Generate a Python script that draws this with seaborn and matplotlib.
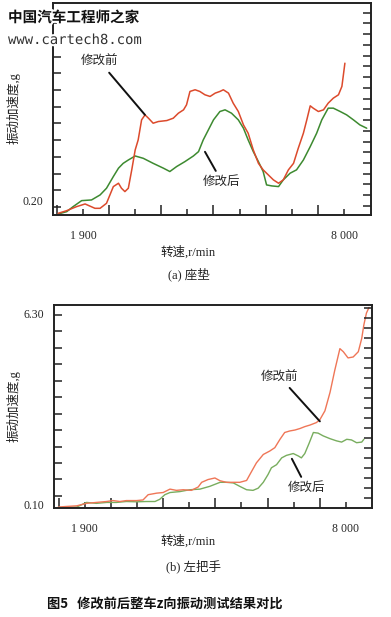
import numpy as np
import pandas as pd
import matplotlib
matplotlib.use("Agg")
import matplotlib.pyplot as plt
import matplotlib.patheffects as pe
import seaborn as sns

### (a) seat cushion
seat_rpm_before = [1320, 1520, 1750, 1950, 2180, 2300, 2450, 2610, 2730, 2800, 2880, 2960, 3040, 3120, 3190,
                   3270, 3350, 3430, 3540, 3660, 3860, 4010, 4130, 4250, 4320, 4400, 4520, 4630, 4750, 4870,
                   4990, 5100, 5180, 5300, 5410, 5530, 5650, 5760, 5880, 6000, 6110, 6230, 6350, 6470, 6580,
                   6700, 6820, 6930, 7050, 7130, 7210, 7280, 7400, 7520, 7630, 7750, 7870, 7950, 7980, 8020]
seat_g_before = [0.162, 0.178, 0.202, 0.218, 0.192, 0.192, 0.222, 0.322, 0.342, 0.312, 0.292, 0.312, 0.422, 0.541, 0.601,
                 0.721, 0.751, 0.731, 0.701, 0.711, 0.717, 0.731, 0.761, 0.781, 0.811, 0.891, 0.901, 0.891, 0.871, 0.861,
                 0.881, 0.891, 0.901, 0.881, 0.821, 0.771, 0.691, 0.641, 0.541, 0.461, 0.422, 0.392, 0.362, 0.342, 0.362,
                 0.422, 0.461, 0.551, 0.641, 0.721, 0.805, 0.791, 0.771, 0.781, 0.821, 0.851, 0.871, 0.921, 0.980, 1.060]
seat_rpm_after = [1320, 1520, 1670, 1870, 2100, 2300, 2450, 2610, 2730, 2840, 2960, 3120, 3310, 3540, 3780,
                  3930, 4090, 4280, 4480, 4600, 4710, 4830, 4950, 5100, 5220, 5370, 5530, 5650, 5760, 5880,
                  6000, 6110, 6190, 6310, 6470, 6580, 6740, 6890, 7050, 7210, 7360, 7480, 7630, 7750, 7910,
                  8060, 8220, 8370, 8530]
seat_g_after = [0.158, 0.172, 0.202, 0.238, 0.242, 0.272, 0.312, 0.382, 0.432, 0.461, 0.481, 0.505, 0.491, 0.461, 0.432,
                0.412, 0.442, 0.471, 0.505, 0.531, 0.601, 0.661, 0.721, 0.771, 0.781, 0.761, 0.721, 0.671, 0.601, 0.531,
                0.471, 0.412, 0.332, 0.326, 0.322, 0.362, 0.402, 0.422, 0.481, 0.561, 0.641, 0.721, 0.791, 0.791, 0.771,
                0.751, 0.721, 0.691, 0.671]

### (b) left handlebar
bar_rpm_before = [1280, 1470, 1710, 1940, 2170, 2410, 2560, 2720, 2870, 3110, 3260, 3380, 3580, 3730, 3890,
                  4040, 4200, 4390, 4550, 4630, 4780, 4940, 5060, 5210, 5370, 5520, 5680, 5800, 5910, 6070,
                  6220, 6340, 6460, 6570, 6690, 6810, 6930, 7040, 7160, 7310, 7390, 7510, 7630, 7740, 7860,
                  7940, 8050, 8170, 8290, 8370, 8420, 8480, 8540]
bar_g_before = [0.03, 0.05, 0.07, 0.15, 0.18, 0.21, 0.24, 0.21, 0.24, 0.24, 0.26, 0.43, 0.48, 0.50, 0.61,
                0.57, 0.59, 0.57, 0.68, 0.83, 0.92, 0.97, 0.88, 0.83, 0.83, 0.83, 0.89, 1.19, 1.46, 1.73,
                1.84, 1.95, 2.22, 2.44, 2.49, 2.52, 2.57, 2.63, 2.68, 2.76, 2.85, 3.14, 3.74, 4.45, 5.15,
                5.05, 4.85, 4.88, 5.05, 5.48, 5.92, 6.30, 6.48]
bar_rpm_after = [1280, 1470, 1710, 1940, 2170, 2410, 2640, 2870, 3110, 3340, 3540, 3650, 3770, 3890, 4120,
                 4350, 4590, 4820, 5060, 5210, 5370, 5520, 5680, 5830, 5950, 6070, 6180, 6260, 6380, 6500,
                 6610, 6770, 6890, 6960, 7040, 7140, 7240, 7350, 7470, 7630, 7780, 7900, 8020, 8130, 8250,
                 8370, 8420]
bar_g_after = [0.02, 0.02, 0.03, 0.18, 0.15, 0.18, 0.18, 0.21, 0.20, 0.21, 0.21, 0.28, 0.43, 0.50, 0.53,
               0.59, 0.61, 0.70, 0.83, 0.83, 0.81, 0.70, 0.59, 0.57, 0.64, 0.83, 1.08, 1.30, 1.40, 1.62,
               1.70, 1.76, 1.68, 1.62, 1.76, 2.09, 2.44, 2.42, 2.33, 2.24, 2.17, 2.13, 2.22, 2.20, 2.11,
               2.13, 2.22]

x_tick_labels = ["1 900", "", "", "", "", "8 000"]

sns.set_style("ticks")
plt.rcParams['font.family'] = ['Liberation Serif', 'Noto Sans CJK SC']

W, H = 391, 617
fig = plt.figure(figsize=(W / 100, H / 100), dpi=100)


def fx(x):
    return x / W


def fy(y):
    return 1 - y / H


def style_axes(ax, xlim, ylim, ylabels, ypos, yminor, yright):
    ax.set_xlim(*xlim)
    ax.set_ylim(*ylim)
    k = np.arange(-1, 11)
    ax.set_xticks(1900 + 610 * k[1::2])
    ax.set_xticks(1900 + 610 * k[0::2], minor=True)
    ax.set_xticklabels(x_tick_labels, fontsize=8.5, family='Liberation Serif')
    ax.set_yticks(ypos)
    ax.set_yticklabels(ylabels, fontsize=8.5, family='Liberation Serif')
    ax.set_yticks(yminor, minor=True)
    ax.tick_params(axis='x', which='major', direction='in', length=4.5, width=1.1, pad=11, color='#222')
    ax.tick_params(axis='x', which='minor', direction='in', length=7, width=1.1, color='#222')
    ax.tick_params(axis='y', which='major', length=0, pad=7)
    ax.tick_params(axis='y', which='minor', direction='in', length=5.5, width=1.1, color='#222')
    for s in ax.spines.values():
        s.set_visible(True)
        s.set_linewidth(1.4)
        s.set_color('#222')
    ax.set_xlabel('')
    ax.set_ylabel('')
    tw = ax.twinx()
    tw.set_ylim(*ylim)
    tw.set_yticks(yright)
    tw.tick_params(axis='y', direction='in', length=5.5, width=1.1, color='#222', labelright=False)
    for s in tw.spines.values():
        s.set_visible(False)


ax1 = fig.add_axes([fx(53), fy(215), fx(371) - fx(53), fy(3) - fy(215)])
df_a1 = pd.DataFrame({"rpm": seat_rpm_before, "g": seat_g_before})
df_a2 = pd.DataFrame({"rpm": seat_rpm_after, "g": seat_g_after})
sns.lineplot(data=df_a2, x="rpm", y="g", ax=ax1, color='#3d8a30', lw=1.1, sort=False, estimator=None)
sns.lineplot(data=df_a1, x="rpm", y="g", ax=ax1, color='#dc4a2c', lw=1.1, sort=False, estimator=None)
style_axes(ax1, (1200, 8630), (0.152, 1.42), ["0.20"], [0.236],
           np.arange(0.2, 1.35, 0.1), np.linspace(0.206, 1.362, 19))

ax2 = fig.add_axes([fx(54), fy(508), fx(372) - fx(54), fy(305) - fy(508)])
df_b1 = pd.DataFrame({"rpm": bar_rpm_before, "g": bar_g_before})
df_b2 = pd.DataFrame({"rpm": bar_rpm_after, "g": bar_g_after})
sns.lineplot(data=df_b2, x="rpm", y="g", ax=ax2, color='#78ad5e', lw=1.0, sort=False, estimator=None)
sns.lineplot(data=df_b1, x="rpm", y="g", ax=ax2, color='#ef7657', lw=1.0, sort=False, estimator=None)
style_axes(ax2, (1180, 8610), (0.0, 6.56), ["0.10", "6.30"], [0.12, 6.30],
           np.linspace(0.39, 6.24, 12), np.linspace(0.33, 6.46, 20))

### leader annotations
arrow = dict(arrowstyle='-', color='#111', lw=1.4, shrinkA=1, shrinkB=0)
ax1.annotate('修改前', xy=(3349, 0.751), xytext=(2297, 1.068), ha='center', va='center',
             fontsize=9, family='Noto Sans CJK SC', arrowprops=arrow)
ax1.annotate('修改后', xy=(4751, 0.53), xytext=(5148, 0.35), ha='center', va='center',
             fontsize=9, family='Noto Sans CJK SC', arrowprops=arrow)
ax2.annotate('修改前', xy=(7392, 2.80), xytext=(6457, 4.23), ha='center', va='center',
             fontsize=9, family='Noto Sans CJK SC', arrowprops=arrow)
ax2.annotate('修改后', xy=(6738, 1.59), xytext=(7088, 0.65), ha='center', va='center',
             fontsize=9, family='Noto Sans CJK SC', arrowprops=arrow)

### axis titles and captions
lab = dict(ha='center', va='center', fontsize=9, color='#222')
fig.text(fx(14), fy(108), '振动加速度,g', rotation=90, **lab)
fig.text(fx(188), fy(252), '转速,r/min', **lab)
fig.text(fx(189), fy(274), '(a) 座垫', **lab)
fig.text(fx(14), fy(406), '振动加速度,g', rotation=90, **lab)
fig.text(fx(188), fy(541), '转速,r/min', **lab)
fig.text(fx(194), fy(566), '(b) 左把手', **lab)
fig.text(fx(47), fy(604), '图5   修改前后整车z向振动测试结果对比', ha='left', va='center',
         fontsize=9.5, fontweight='bold', family='Noto Sans CJK SC', color='#111')

### watermark
glow = [pe.withStroke(linewidth=3, foreground='white')]
fig.text(fx(8), fy(17), '中国汽车工程师之家', ha='left', va='center', fontsize=10.5,
         fontweight='bold', family='Noto Sans CJK SC', color='#111', path_effects=glow)
fig.text(fx(8), fy(40), 'www.cartech8.com', ha='left', va='center', fontsize=10,
         family='DejaVu Sans Mono', color='#333', path_effects=glow)

fig.savefig('out.png', dpi=100, facecolor='white')
